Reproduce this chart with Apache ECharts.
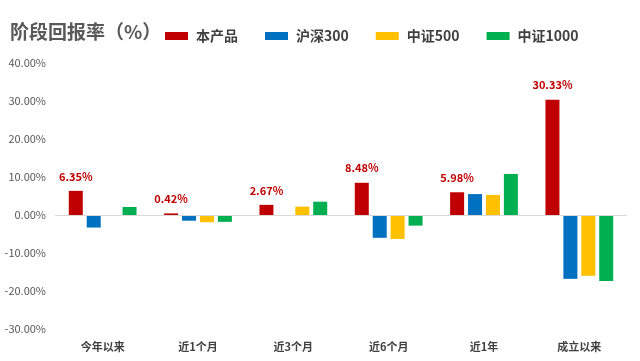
<!DOCTYPE html>
<html><head><meta charset="utf-8">
<script src="https://cdn.jsdelivr.net/npm/echarts@6/dist/echarts.min.js"></script>
<style>html,body{margin:0;padding:0;background:#fff}#c{width:640px;height:361px}</style>
</head><body><div id="c"></div>
<script>
var categories = ['今年以来','近1个月','近3个月','近6个月','近1年','成立以来'];
var seriesNames = ['本产品','沪深300','中证500','中证1000'];
var product = [6.35, 0.42, 2.67, 8.48, 5.98, 30.33];
var hs300 = [-3.3, -1.5, 0, -6.0, 5.5, -16.8];
var zz500 = [0, -1.9, 2.2, -6.3, 5.3, -16.0];
var zz1000 = [2.1, -1.8, 3.5, -2.8, 10.8, -17.4];
var colors = ['#C00000','#0070C0','#FFC000','#00B050'];
var font = '"Noto Sans CJK SC", "Microsoft YaHei", sans-serif';
var chart = echarts.init(document.getElementById('c'));
var datas = [product, hs300, zz500, zz1000];
var series = seriesNames.map(function(n,i){
  var s = {name:n, type:'bar', data:datas[i], barWidth:14, barGap:'28%',
    itemStyle:{color:colors[i]}};
  if(i===0){
    s.label={show:true, position:'top', distance:9, color:'#C00000', fontWeight:'bold', fontSize:11, fontFamily:font,
      formatter:function(p){return p.value.toFixed(2)+'%';}};
    s.markLine={silent:true, symbol:'none', label:{show:false}, lineStyle:{color:'#d9d9d9', type:'solid', width:1}, data:[{yAxis:0}]};
  }
  return s;
});
chart.setOption({
  animation:false,
  title:{text:'阶段回报率（%）', left:5, top:17, textStyle:{fontFamily:font, fontSize:19, fontWeight:'bold', color:'#595959'}},
  legend:{left:160, top:24, itemWidth:23, itemHeight:8, itemGap:27, icon:'rect',
    textStyle:{fontFamily:font, fontSize:14, fontWeight:'bold', color:'#404040', padding:[0,0,0,3]}, data:seriesNames},
  grid:{left:55, right:13, top:63, bottom:32, containLabel:false},
  xAxis:{type:'category', data:categories, axisLine:{show:false, onZero:false}, axisTick:{show:false},
    axisLabel:{fontFamily:font, fontSize:11, fontWeight:'bold', color:'#404040', margin:12}},
  yAxis:{type:'value', min:-30, max:40, interval:10, splitLine:{show:false}, axisLine:{show:false}, axisTick:{show:false},
    axisLabel:{fontFamily:font, fontSize:11, color:'#595959', margin:9, formatter:function(v){return v.toFixed(2)+'%';}}},
  series:series
});
</script></body></html>
